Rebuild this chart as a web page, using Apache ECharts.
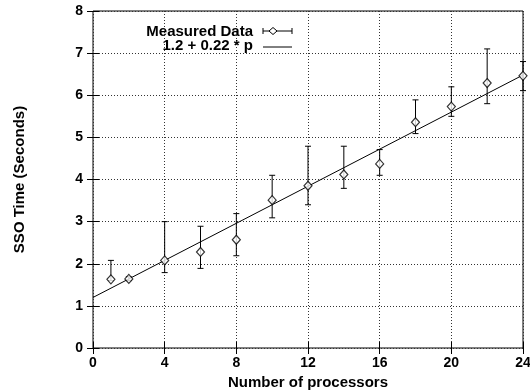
<!DOCTYPE html>
<html>
<head>
<meta charset="utf-8">
<script src="https://cdn.jsdelivr.net/npm/echarts@6/dist/echarts.min.js"></script>
<style>
  html, body { margin: 0; padding: 0; background: #fff; }
  #chart { width: 530px; height: 391px; }
</style>
</head>
<body>
<div id="chart"></div>
<script>
// processors, measured time, and error bar ends
const procs = [1, 2, 4, 6, 8, 10, 12, 14, 16, 18, 20, 22, 24];
const timeMean = [1.63, 1.64, 2.08, 2.28, 2.57, 3.51, 3.85, 4.12, 4.37, 5.36, 5.73, 6.29, 6.46];
const timeLow = [1.6, 1.6, 1.79, 1.89, 2.19, 3.09, 3.4, 3.79, 4.1, 5.09, 5.5, 5.8, 6.11];
const timeHigh = [2.08, 1.69, 3.0, 2.89, 3.19, 4.1, 4.79, 4.79, 4.71, 5.89, 6.2, 7.1, 6.8];

// fitted line 1.2 + 0.22 * p
const fitX = [0, 24];
const fitY = [1.2, 6.48];

const legendNames = ["Measured Data", "1.2 + 0.22 * p"];

const font = "'Liberation Sans', Arial, sans-serif";
const chart = echarts.init(document.getElementById("chart"));

const gridLine = { show: true, lineStyle: { color: "#333", width: 1, type: [1, 2] } };
const tickIn = { show: true, inside: true, length: 6, lineStyle: { color: "#000" } };
const labelStyle = { fontFamily: font, fontWeight: "bold", fontSize: 14, color: "#000" };
const nameStyle = { fontFamily: font, fontWeight: "bold", fontSize: 15, color: "#000" };

const option = {
  animation: false,
  grid: {
    left: 93, right: 7, top: 11, bottom: 43,
    outerBoundsMode: "none",
    containLabel: false,
    show: true, borderColor: "#000", borderWidth: 1
  },
  xAxis: [
    {
      type: "value", min: 0, max: 24, interval: 4,
      name: "Number of processors", nameLocation: "middle", nameGap: 23,
      nameTextStyle: nameStyle,
      axisLine: { show: false },
      axisTick: tickIn,
      axisLabel: Object.assign({ margin: 8 }, labelStyle),
      splitLine: gridLine
    },
    {
      type: "value", min: 0, max: 24, interval: 4, position: "top",
      axisLine: { show: false }, axisTick: tickIn, axisLabel: { show: false }, splitLine: { show: false }
    }
  ],
  yAxis: [
    {
      type: "value", min: 0, max: 8, interval: 1,
      name: "SSO Time (Seconds)", nameLocation: "middle", nameGap: 66,
      nameTextStyle: nameStyle,
      axisLine: { show: false },
      axisTick: tickIn,
      axisLabel: Object.assign({ margin: 10 }, labelStyle),
      splitLine: gridLine
    },
    {
      type: "value", min: 0, max: 8, interval: 1, position: "right",
      axisLine: { show: false }, axisTick: tickIn, axisLabel: { show: false }, splitLine: { show: false }
    }
  ],
  series: [
    {
      type: "line",
      data: fitX.map((x, i) => [x, fitY[i]]),
      showSymbol: false,
      lineStyle: { color: "#000", width: 1 },
      silent: true,
      z: 2
    },
    {
      type: "custom",
      data: procs.map((p, i) => [p, timeLow[i], timeHigh[i]]),
      renderItem: function (params, api) {
        const lo = api.coord([api.value(0), api.value(1)]);
        const hi = api.coord([api.value(0), api.value(2)]);
        const w = 3;
        const style = { stroke: "#000", lineWidth: 1 };
        return {
          type: "group",
          children: [
            { type: "line", shape: { x1: lo[0], y1: lo[1], x2: hi[0], y2: hi[1] }, style: style },
            { type: "line", shape: { x1: lo[0] - w, y1: lo[1], x2: lo[0] + w, y2: lo[1] }, style: style },
            { type: "line", shape: { x1: hi[0] - w, y1: hi[1], x2: hi[0] + w, y2: hi[1] }, style: style }
          ]
        };
      },
      silent: true,
      z: 3
    },
    {
      type: "scatter",
      data: procs.map((p, i) => [p, timeMean[i]]),
      symbol: "diamond",
      symbolSize: [8, 9],
      itemStyle: { color: "#fff", borderColor: "#000", borderWidth: 1.2 },
      silent: true,
      z: 4
    }
  ],
  graphic: [
    { type: "text", x: 253, y: 32, style: { text: legendNames[0], fontFamily: font, fontWeight: "bold", fontSize: 15, fill: "#000", align: "right", verticalAlign: "middle" } },
    { type: "text", x: 253, y: 46, style: { text: legendNames[1], fontFamily: font, fontWeight: "bold", fontSize: 15, fill: "#000", align: "right", verticalAlign: "middle" } },
    { type: "line", shape: { x1: 263, y1: 31, x2: 292, y2: 31 }, style: { stroke: "#000", lineWidth: 1 } },
    { type: "line", shape: { x1: 263, y1: 28, x2: 263, y2: 34 }, style: { stroke: "#000", lineWidth: 1 } },
    { type: "line", shape: { x1: 292, y1: 28, x2: 292, y2: 34 }, style: { stroke: "#000", lineWidth: 1 } },
    { type: "polygon", shape: { points: [[273, 27.5], [277, 31], [273, 34.5], [269, 31]] }, style: { fill: "#fff", stroke: "#000", lineWidth: 1 } },
    { type: "line", shape: { x1: 263, y1: 47, x2: 292, y2: 47 }, style: { stroke: "#000", lineWidth: 1 } }
  ]
};

chart.setOption(option);
</script>
</body>
</html>
